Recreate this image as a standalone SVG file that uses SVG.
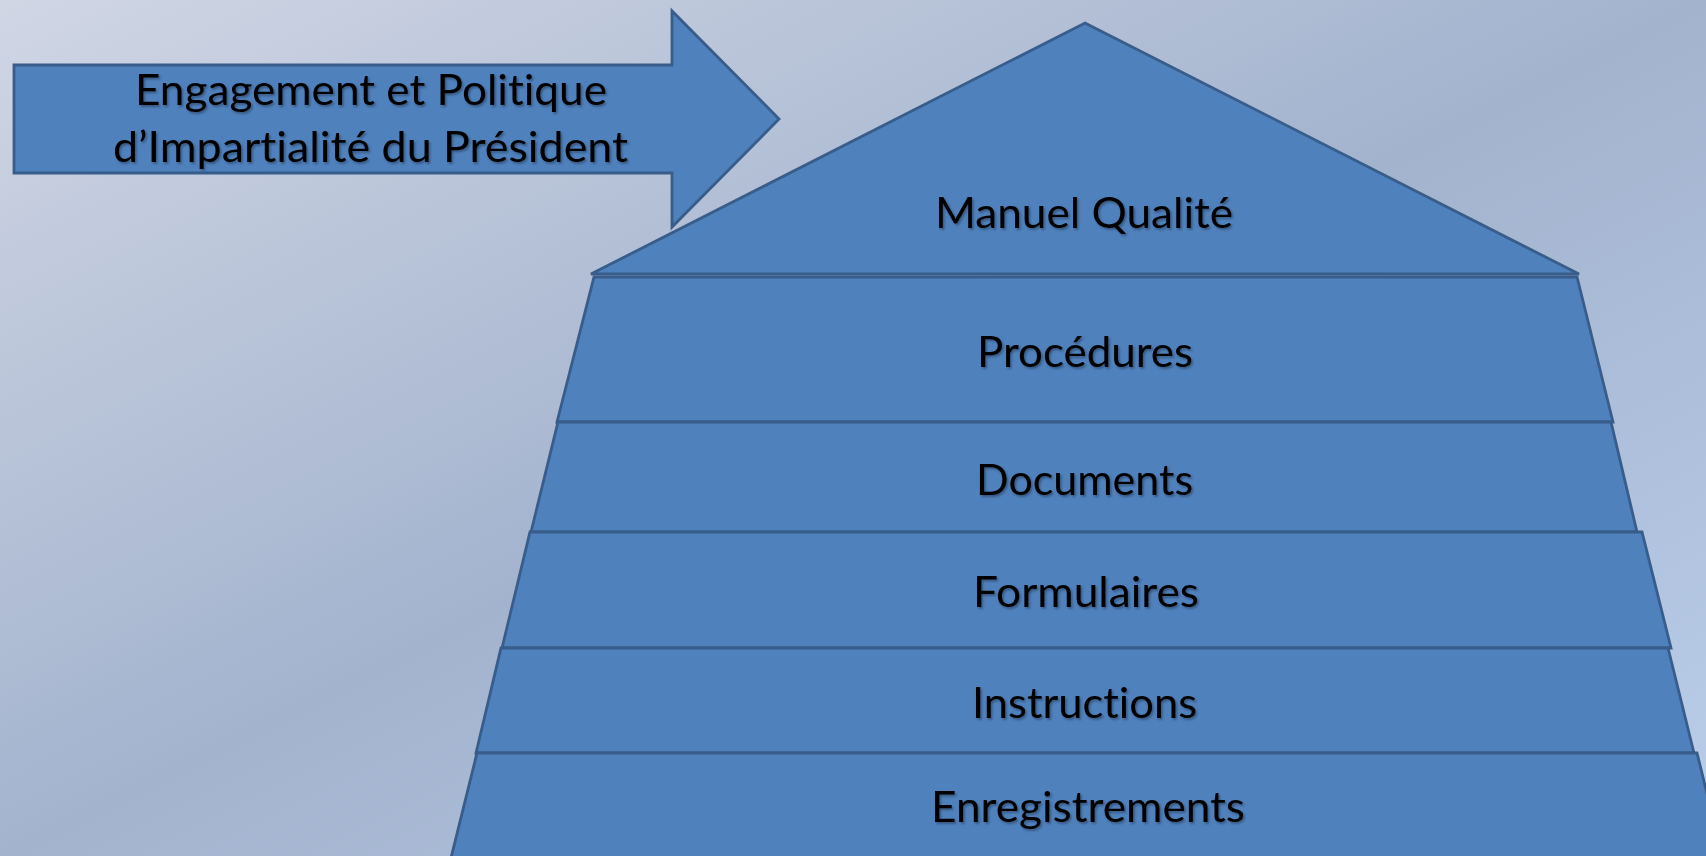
<svg xmlns="http://www.w3.org/2000/svg" width="1706" height="856" viewBox="0 0 1706 856">
  <defs>
    <linearGradient id="bg" x1="0" y1="0" x2="1" y2="1">
      <stop offset="0" stop-color="#D0D6E4"/>
      <stop offset="0.5" stop-color="#A3B3CE"/>
      <stop offset="1" stop-color="#BACEEA"/>
    </linearGradient>
    <filter id="ts" x="-5%" y="-20%" width="110%" height="150%">
      <feDropShadow dx="1.5" dy="1.8" stdDeviation="1.2" flood-color="#000" flood-opacity="0.35"/>
    </filter>
  </defs>
  <style>
    .shape { fill: #4F81BD; stroke: #385D8A; stroke-width: 2.8; stroke-linejoin: miter; }
    .lbl { font-family: Lato, "Open Sans", "Liberation Sans", sans-serif; font-size: 42px; fill: #000; text-anchor: middle; filter: url(#ts); font-variant-ligatures: none; font-feature-settings: "liga" 0, "clig" 0; }
  </style>
  <rect x="0" y="0" width="1706" height="856" fill="url(#bg)"/>

  <g id="arrow">
    <polygon class="shape" points="14,65 672,65 672,11 779,119 672,227 672,173 14,173"/>
    <text class="lbl" x="371" y="105" textLength="472" lengthAdjust="spacingAndGlyphs">Engagement et Politique</text>
    <text class="lbl" x="370.5" y="162" textLength="515" lengthAdjust="spacingAndGlyphs">d’Impartialité du Président</text>
  </g>

  <g id="roof">
    <polygon class="shape" points="1085,23 1579,274 591,274"/>
    <text class="lbl" x="1084" y="228" textLength="298" lengthAdjust="spacingAndGlyphs">Manuel Qualité</text>
  </g>

  <g id="procedures">
    <polygon class="shape" points="594,277 1577,277 1613,422 557,422"/>
    <text class="lbl" x="1085" y="367" textLength="216" lengthAdjust="spacingAndGlyphs">Procédures</text>
  </g>

  <g id="documents">
    <polygon class="shape" points="558,422 1611,422 1637,532 531,532"/>
    <text class="lbl" x="1084.5" y="495" textLength="217" lengthAdjust="spacingAndGlyphs">Documents</text>
  </g>

  <g id="formulaires">
    <polygon class="shape" points="530,532 1642,532 1671,648 502,648"/>
    <text class="lbl" x="1086" y="607" textLength="226" lengthAdjust="spacingAndGlyphs">Formulaires</text>
  </g>

  <g id="instructions">
    <polygon class="shape" points="501,648 1668,648 1694,753 476,753"/>
    <text class="lbl" x="1084.5" y="718" textLength="225" lengthAdjust="spacingAndGlyphs">Instructions</text>
  </g>

  <g id="enregistrements">
    <polygon class="shape" points="477,753 1697,753 1726,870 448,870"/>
    <text class="lbl" x="1088" y="822" textLength="314" lengthAdjust="spacingAndGlyphs">Enregistrements</text>
  </g>

  <g id="connectors"/>
</svg>
